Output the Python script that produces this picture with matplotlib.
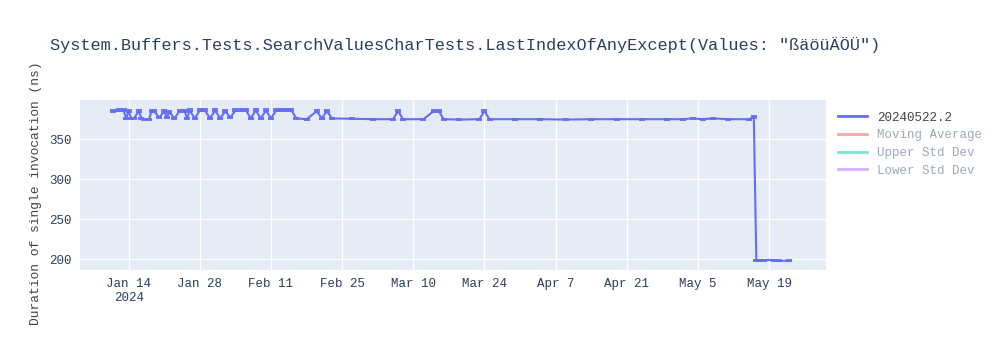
import datetime as dt
import matplotlib
matplotlib.use("Agg")
import matplotlib.pyplot as plt
from matplotlib.lines import Line2D

plt.rcParams["font.family"] = ["Liberation Mono", "DejaVu Sans Mono"]

title = 'System.Buffers.Tests.SearchValuesCharTests.LastIndexOfAnyExcept(Values: "ßäöüÄÖÜ")'
ylabel = "Duration of single invocation (ns)"
series_name = "20240522.2"
hidden_names = ["Moving Average", "Upper Std Dev", "Lower Std Dev"]

# commit dates, mean durations (ns) and error values
dates = [
    "2024-01-11", "2024-01-12", "2024-01-13 00:00", "2024-01-13 12:00", "2024-01-14 00:00",
    "2024-01-14 12:00", "2024-01-15", "2024-01-16 00:00", "2024-01-16 12:00", "2024-01-17",
    "2024-01-18 00:00", "2024-01-18 12:00", "2024-01-19", "2024-01-20", "2024-01-21 00:00",
    "2024-01-21 12:00", "2024-01-22", "2024-01-23", "2024-01-24", "2024-01-25 00:00",
    "2024-01-25 12:00", "2024-01-26", "2024-01-27", "2024-01-28", "2024-01-29",
    "2024-01-30", "2024-01-31", "2024-02-01", "2024-02-02", "2024-02-03",
    "2024-02-04", "2024-02-05", "2024-02-06", "2024-02-07", "2024-02-08",
    "2024-02-09", "2024-02-10", "2024-02-11", "2024-02-12", "2024-02-13",
    "2024-02-14", "2024-02-15", "2024-02-16", "2024-02-18", "2024-02-20",
    "2024-02-21", "2024-02-22", "2024-02-23", "2024-02-27", "2024-03-02",
    "2024-03-06", "2024-03-07", "2024-03-08", "2024-03-12", "2024-03-14",
    "2024-03-15", "2024-03-16", "2024-03-19", "2024-03-23", "2024-03-24",
    "2024-03-25", "2024-03-30", "2024-04-04", "2024-04-09", "2024-04-14",
    "2024-04-19", "2024-04-24", "2024-04-29", "2024-05-02", "2024-05-04",
    "2024-05-06", "2024-05-08", "2024-05-11", "2024-05-15", "2024-05-16 00:00",
    "2024-05-16 12:00", "2024-05-17", "2024-05-18", "2024-05-19", "2024-05-20",
    "2024-05-21", "2024-05-23",
]
values = [
    385, 386, 386, 376, 385,
    376, 376, 385, 376, 375,
    375, 385, 385, 377, 385,
    377, 384, 376, 385, 385,
    376, 386, 376, 386, 386,
    376, 386, 376, 385, 377,
    386, 386, 387, 376, 386,
    376, 386, 376, 386, 386,
    386, 386, 376, 375, 385,
    376, 385, 376, 375.5, 375,
    375, 385, 375, 375, 385,
    385, 375, 374.5, 375, 385,
    375, 375, 375, 374.5, 375,
    375, 375, 375, 375, 376,
    375, 376, 375, 375, 378,
    198, 198, 198.5, 199, 198.5,
    198, 198,
]
errors = [
    1.2, 1.2, 1.2, 0.8, 1.2,
    0.8, 0.8, 1.2, 0.8, 0.8,
    0.8, 1.2, 1.2, 0.8, 1.2,
    0.8, 1.2, 0.8, 1.2, 1.2,
    0.8, 1.2, 0.8, 1.2, 1.2,
    0.8, 1.2, 0.8, 1.2, 0.8,
    1.2, 1.2, 1.2, 0.8, 1.2,
    0.8, 1.2, 0.8, 1.2, 1.2,
    1.2, 1.2, 0.8, 0.4, 1.2,
    0.8, 1.2, 0.8, 0.4, 0.4,
    0.4, 1.2, 0.4, 0.4, 1.2,
    1.2, 0.4, 0.4, 0.4, 1.2,
    0.4, 0.4, 0.4, 0.4, 0.4,
    0.4, 0.4, 0.4, 0.4, 0.4,
    0.4, 0.4, 0.4, 0.4, 1.2,
    0.4, 0.4, 0.4, 0.4, 0.4,
    0.4, 0.4,
]
tick_dates = ["2024-01-14", "2024-01-28", "2024-02-11", "2024-02-25", "2024-03-10",
              "2024-03-24", "2024-04-07", "2024-04-21", "2024-05-05", "2024-05-19"]
y_ticks = [200, 250, 300, 350]

line_color = "#636efa"
hidden_colors = ["#f7aa9d", "#80e6cb", "#d5b1fd"]
text_color = "#2a3f5f"

x = [dt.datetime.fromisoformat(d) for d in dates]

fig = plt.figure(figsize=(10, 3.5), dpi=100)
ax = fig.add_axes([0.08, 0.2286, 0.746, 0.4857])
ax.set_facecolor("#e5ecf6")

ax.errorbar(x, values, yerr=errors, color=line_color, lw=1.5, elinewidth=1.3,
            capsize=2.5, capthick=1.3, zorder=3)

ax.set_xlim(dt.datetime(2024, 1, 4, 10), dt.datetime(2024, 5, 30, 5))
ax.set_ylim(186.5, 399)

ticks = [dt.datetime.fromisoformat(d) for d in tick_dates]
ax.set_xticks(ticks)
labels = [t.strftime("%b ") + str(t.day) for t in ticks]
labels[0] += "\n" + str(ticks[0].year)
ax.set_xticklabels(labels)
ax.set_yticks(y_ticks)
ax.grid(True, color="white", lw=1)
ax.set_axisbelow(True)
for s in ax.spines.values():
    s.set_visible(False)
ax.tick_params(length=0, labelsize=9, colors=text_color, pad=6)

ax.set_ylabel(ylabel, fontsize=9.4, color="#444444")
ax.yaxis.set_label_coords(-0.051, 0.45)
fig.text(0.05, 0.87, title, fontsize=12.2, color=text_color, va="center")

handles = [Line2D([], [], color=line_color, lw=2)]
handles += [Line2D([], [], color=c, lw=2) for c in hidden_colors]
leg = ax.legend(handles, [series_name] + hidden_names, loc="upper left",
                bbox_to_anchor=(1.01, 0.96), frameon=False, fontsize=9,
                handlelength=2.3, labelspacing=0.45, borderaxespad=0)
for i, t in enumerate(leg.get_texts()):
    t.set_color("#444444" if i == 0 else "#a0a8b8")

fig.savefig("out.png")
